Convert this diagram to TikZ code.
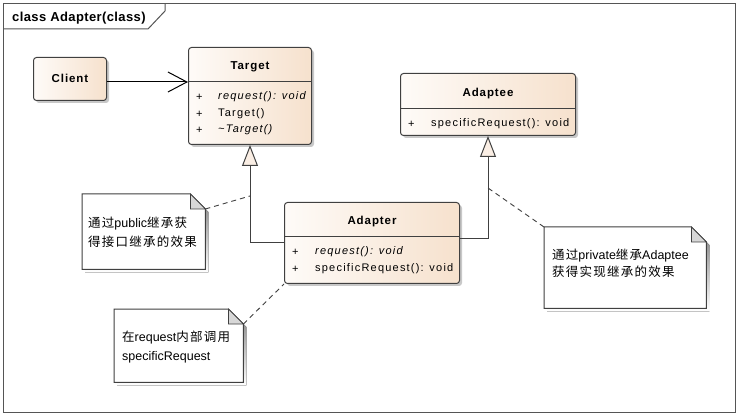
\documentclass[tikz,border=0pt]{standalone}
\usepackage{fontspec}
\setmainfont{Liberation Sans}
\newfontfamily\memfont[LetterSpace=11]{Liberation Sans}
\newfontfamily\headfont[LetterSpace=8]{Liberation Sans}
\newfontfamily\ttlfont[LetterSpace=3]{Liberation Sans}
\newfontfamily\zh[LetterSpace=10]{Noto Sans CJK SC}
\usetikzlibrary{arrows.meta,calc,shadows}

\definecolor{edge}{RGB}{64,64,64}
\definecolor{shade}{RGB}{200,200,200}
\definecolor{boxL}{RGB}{254,251,248}
\definecolor{boxR}{RGB}{246,225,205}
\definecolor{foldc}{RGB}{215,215,215}
\definecolor{framec}{RGB}{85,85,85}

\tikzset{
  classbox/.style={draw=edge, line width=1pt, rounded corners=3pt,
    left color=boxL, right color=boxR, inner sep=0pt, anchor=north west,
    drop shadow={shadow xshift=2.5pt, shadow yshift=-2.5pt, fill=shade, opacity=1}},
  ctitle/.style={inner sep=0pt, font=\headfont\bfseries\fontsize{11.5}{13}\selectfont},
  member/.style={inner sep=0pt, anchor=west, font=\memfont\fontsize{11}{12}\selectfont},
  divider/.style={draw=edge, line width=1pt},
  gen/.style={draw=edge, line width=1pt,
    -{Triangle[length=21pt, width=16pt, fill=boxR!55!white, line width=1pt]}},
  assoc/.style={draw=black, line width=1pt,
    -{Straight Barb[length=19pt, width=20pt, line width=1pt]}},
  notelink/.style={draw=edge, line width=0.9pt, dash pattern=on 5pt off 4pt},
  notearea/.style={inner sep=0pt, anchor=north west},
  notetext/.style={inner sep=0pt, anchor=north west, align=left},
}

\newcommand\umlnote[1]{%
  \fill[shade] ($(#1.north west)+(3,3)$) -- ($(#1.north east)+(-12,3)$)
    -- ($(#1.north east)+(3,18)$) -- ($(#1.south east)+(3,3)$)
    -- ($(#1.south west)+(3,3)$) -- cycle;
  \draw[edge, fill=white, line width=1pt] (#1.north west) -- ($(#1.north east)+(-15,0)$)
    -- ($(#1.north east)+(0,15)$) -- (#1.south east) -- (#1.south west) -- cycle;
  \draw[edge, fill=foldc, line width=0.8pt] ($(#1.north east)+(-15,0)$)
    -- ($(#1.north east)+(-15,15)$) -- ($(#1.north east)+(0,15)$) -- cycle;
}

\begin{document}
\begin{tikzpicture}[x=1pt,y=-1pt]
\useasboundingbox (0,0) rectangle (740,417);
\fill[white] (0,0) rectangle (740,417);

% frame
\draw[framec, line width=1pt] (3,4) rectangle (735,412);
\draw[framec, line width=1pt] (3,29) -- (148,29) -- (165,11) -- (165,4);
\node[inner sep=0pt, anchor=west, font=\ttlfont\bfseries\fontsize{13}{15}\selectfont] (title) at (12,18) {class Adapter(class)};

% Client
\node[classbox, minimum width=73pt, minimum height=43pt] (client) at (33,57) {};
\node[ctitle] (clientname) at ([yshift=1pt]client.center) {Client};

% Target
\node[classbox, minimum width=123pt, minimum height=97pt] (target) at (188,47) {};
\draw[divider] (target.west |- 0,82) -- (target.east |- 0,82);
\node[ctitle] (targetname) at (target.north |- 0,67) {Target};
\node[member] (t1p) at (196,97) {+};
\node[member] (t1) at (218,97) {\itshape request(): void};
\node[member] (t2p) at (196,114) {+};
\node[member] (t2) at (218,114) {Target()};
\node[member] (t3p) at (196,130) {+};
\node[member] (t3) at (218,130) {\itshape \textasciitilde Target()};

% Adaptee
\node[classbox, minimum width=175pt, minimum height=62pt] (adaptee) at (400,73) {};
\draw[divider] (adaptee.west |- 0,109) -- (adaptee.east |- 0,109);
\node[ctitle] (adapteename) at (adaptee.north |- 0,94) {Adaptee};
\node[member] (a1p) at (408,124) {+};
\node[member] (a1) at (431,124) {specificRequest(): void};

% Adapter
\node[classbox, minimum width=175pt, minimum height=81pt] (adapter) at (284,202) {};
\draw[divider] (adapter.west |- 0,237) -- (adapter.east |- 0,237);
\node[ctitle] (adaptername) at (adapter.north |- 0,222) {Adapter};
\node[member] (d1p) at (292,252) {+};
\node[member] (d1) at (315,252) {\itshape request(): void};
\node[member] (d2p) at (292,269) {+};
\node[member] (d2) at (315,269) {specificRequest(): void};

% connectors
\coordinate (cl) at ([yshift=-3pt]client.east);
\draw[assoc] (cl) -- (cl -| target.west);
\draw[gen] (adapter.west) -- (adapter.west -| target.south) -- (target.south);
\coordinate (ar) at ([yshift=4.5pt]adapter.east);
\draw[gen] (ar) -- (ar -| adaptee.south) -- (adaptee.south);

% notes
\node[notearea, minimum width=123pt, minimum height=75pt] (note1) at (82,194) {};
\umlnote{note1}
\node[notetext, font=\fontsize{12.5}{19}\selectfont] (note1text) at (88,216.5)
  {{\zh 通过}public{\zh 继承获}\\{\zh 得接口继承的效果}};

\node[notearea, minimum width=162pt, minimum height=81pt] (note2) at (544,227) {};
\umlnote{note2}
\node[notetext, font=\fontsize{12.5}{17.5}\selectfont] (note2text) at (552,248.5)
  {{\zh 通过}private{\zh 继承}Adaptee\\{\zh 获得实现继承的效果}};

\node[notearea, minimum width=129pt, minimum height=73pt] (note3) at (114,309) {};
\umlnote{note3}
\node[notetext, font=\fontsize{12.5}{19.5}\selectfont] (note3text) at (122,330.5)
  {{\zh 在}request{\zh 内部调用}\\specificRequest};

% note links
\coordinate (n1c) at ($(note1.north east)+(0,15)$);
\coordinate (g1) at (target.south |- 0,196);
\draw[notelink] (n1c) -- (g1);
\coordinate (g2) at (adaptee.south |- 0,188);
\draw[notelink] (note2.north west) -- (g2);
\coordinate (n3c) at ($(note3.north east)+(0,15)$);
\draw[notelink] (n3c) -- (adapter.south west);
\end{tikzpicture}
\end{document}
